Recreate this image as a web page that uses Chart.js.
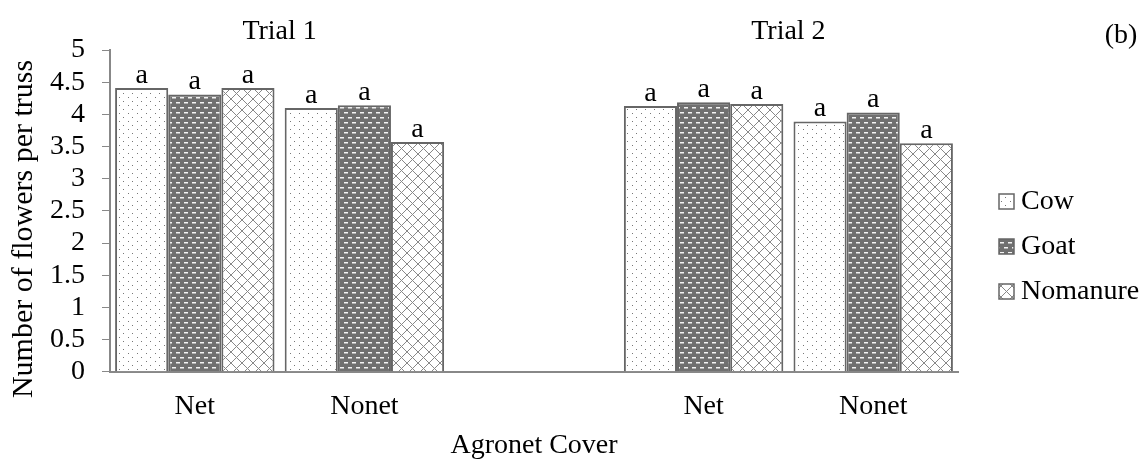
<!DOCTYPE html>
<html lang="en">
<head>
    <meta charset="UTF-8">
    <title>Number of flowers per truss</title>
    <script src="https://cdn.jsdelivr.net/npm/chart.js"></script>
    <style>
        html, body { margin: 0; padding: 0; background: #fff; }
        #wrap { width: 1146px; height: 463px; }
    </style>
</head>
<body>
    <div id="wrap"><canvas id="flowerChart"></canvas></div>
    <script>
        // values (blank slot separates the two trials)
        const categories = ['Net', 'Nonet', '', 'Net', 'Nonet'];
        const trials = ['Trial 1', 'Trial 2'];
        const cow = [4.41, 4.10, null, 4.13, 3.89];
        const goat = [4.31, 4.14, null, 4.19, 4.03];
        const nomanure = [4.41, 3.57, null, 4.16, 3.55];
        const cowLetters = ['a', 'a', '', 'a', 'a'];
        const goatLetters = ['a', 'a', '', 'a', 'a'];
        const nomanureLetters = ['a', 'a', '', 'a', 'a'];
        const yTicks = [0, 0.5, 1, 1.5, 2, 2.5, 3, 3.5, 4, 4.5, 5];

        const FONT = '"Liberation Serif", "Times New Roman", serif';
        const FS = 28;

        // fill patterns like the excel ones
        function makePattern(kind) {
            const c = document.createElement('canvas');
            const g = c.getContext('2d');
            if (kind === 'dots') {
                c.width = 9; c.height = 8;
                g.fillStyle = '#fff'; g.fillRect(0, 0, 9, 8);
                g.fillStyle = '#777';
                g.fillRect(2, 1, 1, 1);
                g.fillRect(6, 5, 1, 1);
            } else if (kind === 'dashes') {
                c.width = 8; c.height = 10;
                g.fillStyle = '#707070'; g.fillRect(0, 0, 8, 10);
                g.fillStyle = '#f4f4f4';
                g.fillRect(0, 2, 4, 1.5);
                g.fillRect(4, 7, 4, 1.5);
            } else {
                c.width = 11; c.height = 11;
                g.fillStyle = '#fff'; g.fillRect(0, 0, 11, 11);
                g.strokeStyle = '#888'; g.lineWidth = 1;
                g.beginPath();
                g.moveTo(-1, -1); g.lineTo(12, 12);
                g.moveTo(12, -1); g.lineTo(-1, 12);
                g.stroke();
            }
            return g.createPattern(c, 'repeat');
        }

        // letters above bars, trial titles, y title, panel tag and the legend
        const annotations = {
            id: 'annotations',
            afterDatasetsDraw(chart) {
                const ctx = chart.ctx;
                const letters = [cowLetters, goatLetters, nomanureLetters];
                ctx.save();
                ctx.fillStyle = '#000';
                ctx.font = FS + 'px ' + FONT;
                ctx.textAlign = 'center';
                ctx.textBaseline = 'alphabetic';
                chart.data.datasets.forEach((ds, i) => {
                    chart.getDatasetMeta(i).data.forEach((bar, j) => {
                        if (ds.data[j] == null) return;
                        ctx.fillText(letters[i][j], bar.x, bar.y - 5);
                    });
                });
                const x = chart.scales.x;
                ctx.textBaseline = 'middle';
                ctx.fillText(trials[0], x.getPixelForValue(0.5), 32);
                ctx.fillText(trials[1], x.getPixelForValue(3.5), 32);
                ctx.fillText('(b)', 1121, 36);

                // y axis title
                ctx.save();
                ctx.translate(24, 229);
                ctx.rotate(-Math.PI / 2);
                ctx.font = '30px ' + FONT;
                ctx.fillText('Number of flowers per truss', 0, 0);
                ctx.restore();

                // legend
                ctx.textAlign = 'left';
                chart.data.datasets.forEach((ds, i) => {
                    const yy = 202 + i * 45;
                    ctx.fillStyle = ds.backgroundColor;
                    ctx.fillRect(999, yy - 8, 15, 15);
                    ctx.strokeStyle = '#666';
                    ctx.lineWidth = 1.5;
                    ctx.strokeRect(999, yy - 8, 15, 15);
                    ctx.fillStyle = '#000';
                    ctx.fillText(ds.label, 1021, yy);
                });
                ctx.restore();
            }
        };

        const ctx = document.getElementById('flowerChart').getContext('2d');
        const flowerChart = new Chart(ctx, {
            type: 'bar',
            data: {
                labels: categories,
                datasets: [
                    { label: 'Cow', data: cow, backgroundColor: makePattern('dots') },
                    { label: 'Goat', data: goat, backgroundColor: makePattern('dashes') },
                    { label: 'Nomanure', data: nomanure, backgroundColor: makePattern('cross') }
                ]
            },
            options: {
                responsive: true,
                maintainAspectRatio: false,
                animation: false,
                barPercentage: 1,
                categoryPercentage: 0.94,
                elements: { bar: { borderColor: '#666', borderWidth: 2 } },
                layout: { padding: { top: 50, right: 188, left: 33, bottom: 1 } },
                plugins: {
                    tooltip: { enabled: false },
                    legend: { display: false }
                },
                scales: {
                    x: {
                        grid: { display: false, tickLength: 0 },
                        border: { color: '#888', width: 2 },
                        ticks: { color: '#000', font: { family: FONT, size: FS }, padding: 18 },
                        title: { display: true, text: 'Agronet Cover', color: '#000',
                                 font: { family: FONT, size: FS }, padding: { top: -13, bottom: 0 } }
                    },
                    y: {
                        min: 0,
                        max: 5,
                        afterBuildTicks(axis) { axis.ticks = yTicks.map(v => ({ value: v })); },
                        grid: { drawOnChartArea: false, drawTicks: true, tickLength: 8, color: '#888' },
                        border: { color: '#888', width: 2 },
                        ticks: { color: '#000', font: { family: FONT, size: FS }, padding: 17,
                                 autoSkip: false, callback: v => String(v) }
                    }
                }
            },
            plugins: [annotations]
        });
    </script>
</body>
</html>
